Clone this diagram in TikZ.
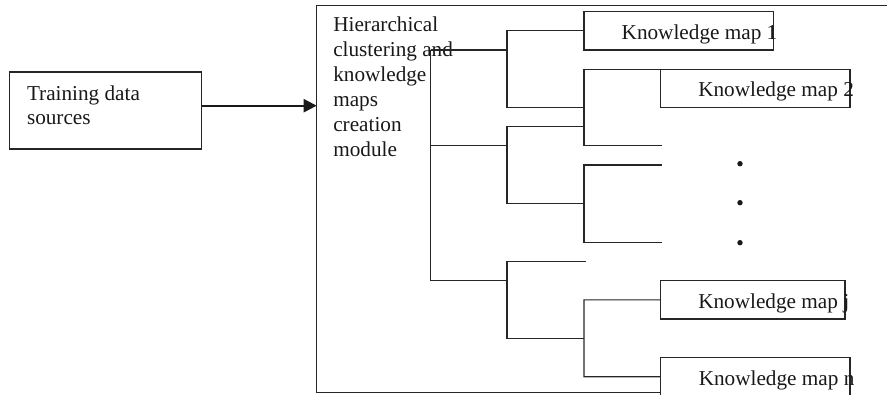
\documentclass[tikz,border=0pt]{standalone}
\usepackage{fontspec}
\setmainfont{Liberation Serif}
\usetikzlibrary{arrows.meta}
\begin{document}
\begin{tikzpicture}[x=1bp,y=-1bp,line width=1.2bp,
  every node/.style={inner sep=0pt,outer sep=0pt},
  txt/.style={anchor=base west,font=\fontsize{21.3}{25}\selectfont,text=black!90},
  kbox/.style={draw=black!85,rectangle,anchor=north west,line width=1.2bp},
  dot/.style={circle,fill=black!90,minimum size=5.4bp},
  link/.style={draw=black!85,line width=1.2bp},
  flow/.style={draw=black!90,line width=2.2bp,-{Triangle[length=13bp,width=13bp]}}]
\useasboundingbox (0,0) rectangle (887,394);
\fill[white] (0,0) rectangle (887,394);
% training box
\node[kbox,minimum width=192.4bp,minimum height=77bp] (tds) at (9.3,72) {};
\node[txt] (tds1) at (27,100) {Training data};
\node[txt] (tds2) at (27,124.5) {sources};
% module box (cropped)
\coordinate (mtl) at (316.7,5.7);
\coordinate (mtr) at (900,5.7);
\coordinate (mbl) at (316.7,392.7);
\coordinate (mbr) at (660.7,392.7);
\draw[link] (mtr) -- (mtl) -- (mbl) -- (mbr);
\node[txt] (m1) at (333.3,31.5) {Hierarchical};
\node[txt] (m2) at (333.3,56.5) {clustering and};
\node[txt] (m3) at (333.3,81.5) {knowledge};
\node[txt] (m4) at (333.3,106.3) {maps};
\node[txt] (m5) at (333.3,131) {creation};
\node[txt] (m6) at (333.3,156.5) {module};
% arrow
\coordinate (ain) at (316.7,105.7);
\draw[flow] (tds.east |- ain) -- (ain);
% knowledge map boxes
\node[kbox,minimum width=189.3bp,minimum height=38.3bp] (km1) at (584,11.7) {};
\node[kbox,minimum width=189.3bp,minimum height=38.4bp] (km2) at (660.7,69.3) {};
\node[kbox,minimum width=184.3bp,minimum height=38.3bp] (kmj) at (660.7,280.7) {};
\node[kbox,minimum width=189.3bp,minimum height=38.5bp] (kmn) at (660.7,357.5) {};
\node[txt] (k1) at (621.7,39.3) {Knowledge map 1};
\node[txt] (k2) at (698.3,96.7) {Knowledge map 2};
\node[txt] (kj) at (698.3,308.3) {Knowledge map j};
\node[txt] (kn) at (698.8,385.2) {Knowledge map n};
% dots
\node[dot] (d1) at (740,163.7) {};
\node[dot] (d2) at (740,202.7) {};
\node[dot] (d3) at (740,242.7) {};
% dendrogram
\coordinate (r1) at (430.7,50);
\coordinate (r2) at (430.7,145.7);
\coordinate (r3) at (430.7,280.7);
\coordinate (a1bot) at (507,107.7);
\coordinate (a2top) at (507,126.7);
\coordinate (a2bot) at (507,203.3);
\coordinate (a3bot) at (507,338.3);
\coordinate (b1bot) at (584,145.7);
\coordinate (b2bot) at (584,242.3);
\coordinate (b3bot) at (584,376.7);
\coordinate (bx) at (584,0);
\coordinate (leaf1) at (661.7,145.7);
\coordinate (leaf2) at (661.7,165);
\coordinate (leaf3) at (661.7,242.3);
\coordinate (leaf4) at (586,261.7);
\draw[link] (r1) -- (r3);
\draw[link] (r1) -- (r1 -| a1bot);
\draw[link] (r2) -- (r2 -| a2top);
\draw[link] (r3) -- (r3 -| a3bot);
\draw[link] (km1.west) -| (a1bot) -- (a1bot -| bx);
\draw[link] (km2.north west) -| (b1bot) -- (leaf1);
\draw[link] (a2top -| bx) -- (a2top) -- (a2bot) -- (a2bot -| bx);
\draw[link] (leaf2) -| (b2bot) -- (leaf3);
\draw[link] (leaf4) -| (a3bot) -- (a3bot -| bx);
\draw[link] (kmj.west) -| (b3bot) -- (kmn.west);
\end{tikzpicture}
\end{document}
